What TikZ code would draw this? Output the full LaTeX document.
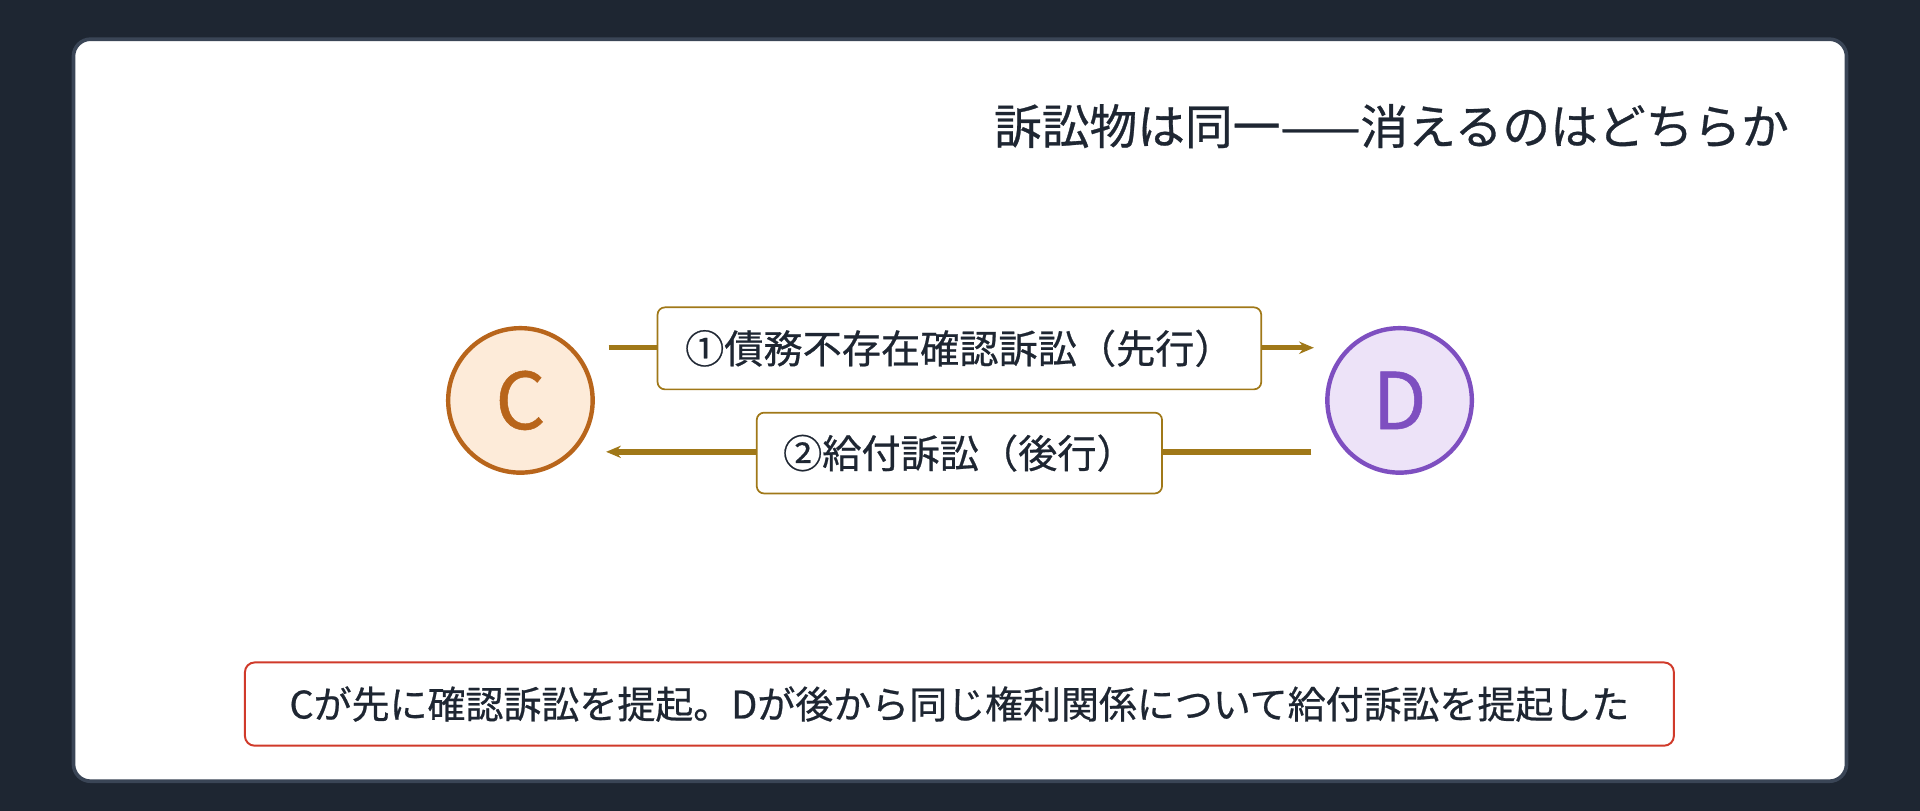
\documentclass[tikz,border=0pt]{standalone}
\usepackage{fontspec}
\setmainfont{Noto Sans CJK JP}[FakeBold=0.6,AutoFakeBold=0.6]
\usetikzlibrary{arrows.meta}
\definecolor{bg}{HTML}{1E2632}
\definecolor{cardedge}{HTML}{3A4556}
\definecolor{gold}{HTML}{A07818}
\definecolor{cfill}{HTML}{FDEBD9}
\definecolor{cedge}{HTML}{B8651B}
\definecolor{dfill}{HTML}{EDE3F8}
\definecolor{dedge}{HTML}{7E4FC0}
\definecolor{red}{HTML}{D03A2A}
\definecolor{ink}{HTML}{1E2632}
\begin{document}
\begin{tikzpicture}[x=0.5pt,y=-0.5pt,
  party/.style={circle,minimum size=118pt*0.5,line width=1.8pt,font=\fontsize{32}{32}\selectfont},
  lbl/.style={draw=gold,fill=white,rounded corners=3pt,line width=0.7pt,text=ink,font=\fontsize{16}{16}\selectfont,inner sep=0pt},
  arr/.style={draw=gold,line width=2.2pt,-{Stealth[length=6pt,width=5pt]}}]
\fill[bg] (0,0) rectangle (1568,662);
\useasboundingbox (0,0) rectangle (1568,662);
\draw[cardedge,fill=white,line width=1.5pt,rounded corners=7pt] (60,32) rectangle (1508,638);
\node[anchor=east,text=ink,font=\fontsize{19.5}{19.5}\selectfont] (title) at (1468,103) {訴訟物は同一——消えるのはどちらか};
\node[party,fill=cfill,draw=cedge,text=cedge] (C) at (425,327) {C};
\node[party,fill=dfill,draw=dedge,text=dedge] (D) at (1143,327) {D};
\coordinate (a1s) at (497,284); \coordinate (a1e) at (1073,284);
\coordinate (a2s) at (1071,369); \coordinate (a2e) at (495,369);
\draw[arr] (a1s) -- (a1e);
\draw[arr] (a2s) -- (a2e);
\node[lbl,minimum width=493*0.5pt,minimum height=67*0.5pt] (l1) at (783.5,284.5) {①債務不存在確認訴訟（先行）};
\node[lbl,minimum width=331*0.5pt,minimum height=66*0.5pt] (l2) at (783.5,370) {②給付訴訟（後行）};
\node[draw=red,fill=white,rounded corners=4pt,line width=0.8pt,text=ink,font=\fontsize{15.5}{15.5}\selectfont,minimum width=1167*0.5pt,minimum height=68*0.5pt,inner sep=0pt] (note) at (783.5,575) {Cが先に確認訴訟を提起。Dが後から同じ権利関係について給付訴訟を提起した};
\end{tikzpicture}
\end{document}
